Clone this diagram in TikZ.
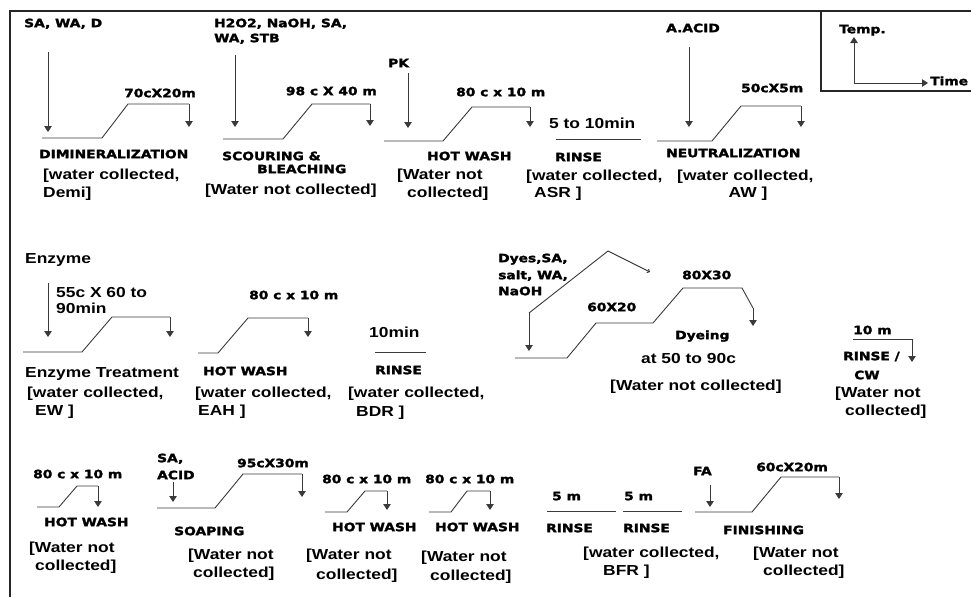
\documentclass[tikz,border=0pt]{standalone}
\usepackage{fontspec}
\usetikzlibrary{arrows.meta}
\newfontfamily\hvfont{DejaVu Sans}[UprightFont=* Bold,FakeStretch=1.2,FakeBold=2]
\newfontfamily\lbfont{Liberation Sans}[UprightFont=* Bold,FakeStretch=1.2]
\definecolor{linec}{HTML}{3A3A3A}
\begin{document}
\begin{tikzpicture}[x=1pt,y=-1pt,
  hv/.style={font=\hvfont\fontsize{11.5}{12}\selectfont, inner sep=0pt, anchor=west, text height=8.4pt, text depth=0pt},
  lb/.style={font=\lbfont\fontsize{14.5}{17}\selectfont, inner sep=0pt, anchor=west, text height=10.4pt, text depth=0pt},
  ln/.style={draw=linec, line width=0.9pt},
  arr/.style={ln, -{Triangle[length=6pt,width=7.5pt]}},
  frame/.style={draw=black!85, line width=1.2pt}]
\useasboundingbox[fill=white] (0,0) rectangle (971,597);
% frame and legend box
\draw[frame] (971,11) -- (10,11) -- (10,597);
\draw[frame] (821,11) -- (821,91) -- (971,91);
\draw[arr] (854,83) -- (854,37);
\draw[arr] (854,83) -- (928,83);
\node[hv] (temp) at (839,29) {Temp.};
\node[hv] (time) at (930,81) {Time};
% ---------- Row 1 ----------
% Demineralization
\node[hv] (d1) at (24,23) {SA, WA, D};
\draw[arr] (48,52) -- (48,132);
\draw[ln] (42,138) -- (102,138) -- (128,104) -- (189,104);
\draw[arr] (189,104) -- (189,127);
\node[hv] (d2) at (124,93) {70cX20m};
\node[hv] (d3) at (39,154) {DIMINERALIZATION};
\node[lb] (d4) at (43,174) {[water collected,};
\node[lb] (d5) at (43,192) {Demi]};
% Scouring & bleaching
\node[hv] (s1) at (214,23) {H2O2, NaOH, SA,};
\node[hv] (s2) at (214,38) {WA, STB};
\draw[arr] (235,55) -- (235,127);
\draw[ln] (223,139) -- (283,139) -- (312,104) -- (370,104);
\draw[arr] (370,104) -- (370,126);
\node[hv,anchor=east] (s3) at (377,91) {98 c X 40 m};
\node[hv] (s4) at (222,156) {SCOURING \&};
\node[hv] (s5) at (257,169) {BLEACHING};
\node[lb] (s6) at (205,189) {[Water not collected]};
% Hot wash
\node[hv] (h1) at (388,63) {PK};
\draw[arr] (408,73) -- (408,128);
\draw[ln] (384,141) -- (443,141) -- (472,107) -- (530,107);
\draw[arr] (530,107) -- (530,127);
\node[hv] (h2) at (456,92) {80 c x 10 m};
\node[hv] (h3) at (427,156) {HOT WASH};
\node[lb] (h4) at (397,174) {[Water not};
\node[lb] (h5) at (407,192) {collected]};
% Rinse
\node[lb] (r1) at (549,123) {5 to 10min};
\draw[ln] (556,139) -- (641,139);
\node[hv] (r2) at (555,157) {RINSE};
\node[lb] (r3) at (526,175) {[water collected,};
\node[lb] (r4) at (534,192) {ASR ]};
% Neutralization
\node[hv] (n1) at (666,28) {A.ACID};
\draw[arr] (689,47) -- (689,127);
\draw[ln] (657,141) -- (712,141) -- (741,106) -- (801,106);
\draw[arr] (801,106) -- (801,127);
\node[hv] (n2) at (741,88) {50cX5m};
\node[hv] (n3) at (666,153) {NEUTRALIZATION};
\node[lb] (n4) at (677,175) {[water collected,};
\node[lb,anchor=center] (n5) at (748,192) {AW ]};
% ---------- Row 2 ----------
% Enzyme
\node[lb] (e1) at (25,258) {Enzyme};
\draw[arr] (48,283) -- (48,337);
\node[lb] (e2) at (56,292) {55c X 60 to};
\node[lb] (e3) at (56,308) {90min};
\draw[ln] (23,352) -- (82,352) -- (112,317) -- (170,317);
\draw[arr] (170,317) -- (170,337);
\node[lb] (e4) at (25,372) {Enzyme Treatment};
\node[lb] (e5) at (27,392) {[water collected,};
\node[lb] (e6) at (35,410) {EW ]};
% Hot wash 2
\draw[ln] (198,353) -- (218,353) -- (248,318) -- (308,318);
\draw[arr] (308,318) -- (308,337);
\node[hv] (w1) at (249,295) {80 c x 10 m};
\node[hv] (w2) at (203,371) {HOT WASH};
\node[lb] (w3) at (195,392) {[water collected,};
\node[lb] (w4) at (198,410) {EAH ]};
% Rinse 2
\node[lb] (q1) at (369,332) {10min};
\draw[ln] (375,352) -- (426,352);
\node[hv] (q2) at (375,370) {RINSE};
\node[lb] (q3) at (348,392) {[water collected,};
\node[lb] (q4) at (356,411) {BDR ]};
% Dyeing
\node[hv] (y1) at (498,258) {Dyes,SA,};
\node[hv] (y2) at (498,275) {salt, WA,};
\node[hv] (y3) at (498,291) {NaOH};
\draw[arr] (529,313) -- (529,351);
\draw[ln, -{Straight Barb[length=2pt,width=4pt]}] (529,313) -- (608,251) -- (650,272);
\draw[ln] (515,358) -- (567,358) -- (596,323) -- (653,323) -- (683,288) -- (742,288) -- (753,308);
\draw[arr] (753,308) -- (753,326);
\node[hv] (y4) at (587,307) {60X20};
\node[hv] (y5) at (682,275) {80X30};
\node[hv] (y6) at (675,335) {Dyeing};
\node[lb] (y7) at (641,358) {at 50 to 90c};
\node[lb] (y8) at (610,385) {[Water not collected]};
% Rinse / CW
\node[hv] (c1) at (853,330) {10 m};
\draw[ln] (853,339) -- (912,339);
\draw[arr] (912,339) -- (912,362);
\node[hv] (c2) at (843,356) {RINSE /};
\node[hv] (c3) at (854,375) {CW};
\node[lb] (c4) at (835,392) {[Water not};
\node[lb] (c5) at (845,410) {collected]};
% ---------- Row 3 ----------
% Hot wash 3
\node[hv] (a1) at (33,474) {80 c x 10 m};
\draw[ln] (37,507) -- (59,507) -- (77,486) -- (98,486);
\draw[arr] (98,486) -- (98,507);
\node[hv] (a2) at (44,522) {HOT WASH};
\node[lb] (a3) at (29,547) {[Water not};
\node[lb] (a4) at (35,565) {collected]};
% Soaping
\node[hv] (p1) at (157,458) {SA,};
\node[hv] (p2) at (157,475) {ACID};
\draw[arr] (173,482) -- (173,502);
\draw[ln] (157,508) -- (215,508) -- (243,474) -- (302,474);
\draw[arr] (302,474) -- (302,497);
\node[hv] (p3) at (237,463) {95cX30m};
\node[hv] (p4) at (174,531) {SOAPING};
\node[lb] (p5) at (188,554) {[Water not};
\node[lb] (p6) at (193,572) {collected]};
% Hot wash 4
\node[hv] (b1) at (322,479) {80 c x 10 m};
\draw[ln] (325,512) -- (347,512) -- (365,491) -- (387,491);
\draw[arr] (387,491) -- (387,510);
\node[hv] (b2) at (332,527) {HOT WASH};
\node[lb] (b3) at (306,554) {[Water not};
\node[lb] (b4) at (316,574) {collected]};
% Hot wash 5
\node[hv] (f1) at (425,479) {80 c x 10 m};
\draw[ln] (429,512) -- (451,512) -- (467,491) -- (490,491);
\draw[arr] (490,491) -- (490,510);
\node[hv] (f2) at (435,527) {HOT WASH};
\node[lb] (f3) at (421,556) {[Water not};
\node[lb] (f4) at (430,575) {collected]};
% Rinses
\node[hv] (k1) at (552,496) {5 m};
\draw[ln] (547,511) -- (616,511);
\node[hv] (k2) at (546,528) {RINSE};
\node[hv] (k3) at (624,496) {5 m};
\draw[ln] (623,511) -- (682,511);
\node[hv] (k4) at (623,528) {RINSE};
\node[lb] (k5) at (583,552) {[water collected,};
\node[lb] (k6) at (603,570) {BFR ]};
% Finishing
\node[hv] (g1) at (693,471) {FA};
\draw[arr] (710,485) -- (710,507);
\draw[ln] (695,512) -- (752,512) -- (781,477) -- (839,477);
\draw[arr] (839,477) -- (839,499);
\node[hv] (g2) at (756,467) {60cX20m};
\node[hv] (g3) at (723,530) {FINISHING};
\node[lb] (g4) at (753,552) {[Water not};
\node[lb] (g5) at (763,570) {collected]};
\end{tikzpicture}
\end{document}
